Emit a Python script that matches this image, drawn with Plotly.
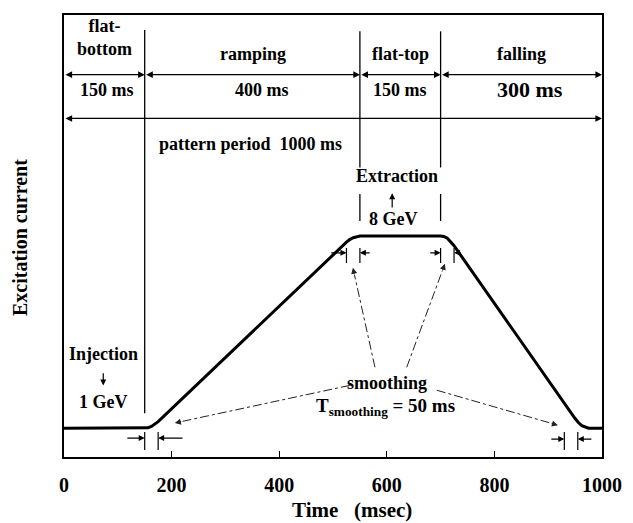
import math
import plotly.graph_objects as go

# ---------------- data ----------------
time_ms = [0, 150, 156, 162.5, 169, 175, 525, 531, 537.5, 544, 550,
           700, 706, 712.5, 719, 725, 950, 956, 962.5, 969, 975, 1000]
current = [0.065, 0.065, 0.066, 0.069, 0.074, 0.080, 0.486, 0.492, 0.496, 0.499, 0.500,
           0.500, 0.499, 0.495, 0.487, 0.478, 0.087, 0.078, 0.071, 0.067, 0.065, 0.065]

phase_bounds = [0, 150, 550, 700, 1000]
phase_names = ["flat-<br>bottom", "ramping", "flat-top", "falling"]
phase_durations = ["150 ms", "400 ms", "150 ms", "300 ms"]
period_label = "pattern period  1000 ms"

smoothing_starts = [150, 525, 700, 930]
smoothing_ends = [175, 550, 725, 955]

tick_vals = [0, 200, 400, 600, 800, 1000]
tick_text = ["0", "200", "400", "600", "800", "1000"]

# ---------------- layout helpers ----------------
# the page places the figure 8 px from the window's top-left corner
OFF = 8
W, H = 633 - OFF, 523 - OFF
ML, MR, MT, MB = 64 - OFF, 31, 13 - OFF, 66
PW, PH = W - ML - MR, H - MT - MB
KX = PW / 1000.0   # px per ms
KY = PH / 1.0      # px per unit

FONT = "Liberation Serif"


def f(size):
    return dict(family=FONT, size=size, color="black")


fig = go.Figure()
fig.add_trace(go.Scatter(x=time_ms, y=current, mode="lines",
                         line=dict(color="black", width=3), hoverinfo="skip",
                         showlegend=False))

shapes = []
ann = []

# header rows of arrows
y_row1, y_row2 = 0.865, 0.766
for a, b in zip(phase_bounds[:-1], phase_bounds[1:]):
    ann.append(dict(x=b, y=y_row1, ax=a, ay=y_row1, xref="x", yref="y", axref="x", ayref="y",
                    text="", showarrow=True, arrowhead=2, arrowside="end+start",
                    arrowsize=1.1, arrowwidth=1.2, arrowcolor="black", standoff=0, startstandoff=0))
ann.append(dict(x=phase_bounds[-1], y=y_row2, ax=phase_bounds[0], ay=y_row2,
                xref="x", yref="y", axref="x", ayref="y",
                text="", showarrow=True, arrowhead=2, arrowside="end+start",
                arrowsize=1.1, arrowwidth=1.2, arrowcolor="black", standoff=0, startstandoff=0))

# vertical phase boundaries
shapes.append(dict(type="line", x0=phase_bounds[1], x1=phase_bounds[1], y0=0.966, y1=0.099,
                   line=dict(color="black", width=1.3)))
for xb in phase_bounds[2:4]:
    shapes.append(dict(type="line", x0=xb, x1=xb, y0=0.963, y1=0.655,
                       line=dict(color="black", width=1.3)))
    shapes.append(dict(type="line", x0=xb, x1=xb, y0=0.595, y1=0.534,
                       line=dict(color="black", width=1.3)))

# phase names and durations
name_y = [0.948, 0.912, 0.912, 0.912]
for i, (a, b) in enumerate(zip(phase_bounds[:-1], phase_bounds[1:])):
    ann.append(dict(x=(a + b) / 2 + 1, y=name_y[i], xref="x", yref="y", showarrow=False,
                    text="<b>%s</b>" % phase_names[i], font=f(18)))
dur_x = [80, 368, 625, 866]
dur_size = [18, 18, 18, 22]
for i, d in enumerate(phase_durations):
    ann.append(dict(x=dur_x[i], y=0.831, xref="x", yref="y", showarrow=False,
                    text="<b>%s</b>" % d, font=f(dur_size[i])))
ann.append(dict(x=347, y=0.709, xref="x", yref="y", showarrow=False,
                text="<b>%s</b>" % period_label.replace("  ", "&nbsp; "), font=f(18)))

# extraction / injection
ann.append(dict(x=619, y=0.635, xref="x", yref="y", showarrow=False,
                text="<b>Extraction</b>", font=f(18)))
ann.append(dict(x=610, y=0.597, ax=610, ay=0.561, xref="x", yref="y", axref="x", ayref="y",
                text="", showarrow=True, arrowhead=2, arrowsize=1, arrowwidth=1.2,
                arrowcolor="black", standoff=0))
ann.append(dict(x=612, y=0.538, xref="x", yref="y", showarrow=False,
                text="<b>8 GeV</b>", font=f(18)))

ann.append(dict(x=74, y=0.234, xref="x", yref="y", showarrow=False,
                text="<b>Injection</b>", font=f(18)))
ann.append(dict(x=73, y=0.162, ax=73, ay=0.193, xref="x", yref="y", axref="x", ayref="y",
                text="", showarrow=True, arrowhead=2, arrowsize=1, arrowwidth=1.2,
                arrowcolor="black", standoff=0))
ann.append(dict(x=74, y=0.124, xref="x", yref="y", showarrow=False,
                text="<b>1 GeV</b>", font=f(18)))

# smoothing markers (ticks with inward arrows)
mark_y = [(0.0563, 0.0158, 0.0428), (0.473, 0.439, 0.462), (0.473, 0.439, 0.462), (0.0563, 0.0158, 0.0405)]
arrow_len = [(35, 48), (31, 21), (22, 15), (27, 28)]
for i, (s, e) in enumerate(zip(smoothing_starts, smoothing_ends)):
    y0, y1, ya = mark_y[i]
    for xv in (s, e):
        shapes.append(dict(type="line", x0=xv, x1=xv, y0=y0, y1=y1,
                           line=dict(color="black", width=1.2)))
    ann.append(dict(x=s, y=ya, ax=s - arrow_len[i][0], ay=ya, xref="x", yref="y",
                    axref="x", ayref="y", text="", showarrow=True, arrowhead=2,
                    arrowsize=1, arrowwidth=1.2, arrowcolor="black", standoff=0))
    ann.append(dict(x=e, y=ya, ax=e + arrow_len[i][1], ay=ya, xref="x", yref="y",
                    axref="x", ayref="y", text="", showarrow=True, arrowhead=2,
                    arrowsize=1, arrowwidth=1.2, arrowcolor="black", standoff=0))

# smoothing labels and dash-dot pointers
ann.append(dict(x=600, y=0.167, xref="x", yref="y", showarrow=False,
                text="<b>smoothing</b>", font=f(18)))
ann.append(dict(x=597, y=0.113, xref="x", yref="y", showarrow=False,
                text="<b>T<sub>smoothing</sub> = 50 ms</b>", font=f(19)))

pointers = [((531, 0.162), (206, 0.077)),
            ((578, 0.203), (537, 0.428)),
            ((637, 0.203), (708, 0.437)),
            ((693, 0.151), (918, 0.072))]
for (tx, ty), (hx, hy) in pointers:
    dxp = (hx - tx) * KX
    dyp = -(hy - ty) * KY
    L = math.hypot(dxp, dyp)
    ux, uy = dxp / L, dyp / L
    back = 7.0
    ex = hx - ux * back / KX
    ey = hy + uy * back / KY
    shapes.append(dict(type="line", x0=tx, y0=ty, x1=ex, y1=ey,
                       line=dict(color="#222222", width=1, dash="dashdot")))
    ann.append(dict(x=hx, y=hy, xref="x", yref="y", ax=-ux * 8, ay=-uy * 8,
                    text="", showarrow=True, arrowhead=2, arrowsize=1, arrowwidth=1.2,
                    arrowcolor="#222222", standoff=0))

# axis titles (positions given in window pixels)
ann.append(dict(x=(20 - 64) / PW, y=(457 - 237) / PH, xref="paper", yref="paper",
                xanchor="center", yanchor="middle",
                showarrow=False, textangle=-90, text="<b>Excitation current</b>", font=f(20)))
ann.append(dict(x=(352 - 64) / PW, y=(457 - 510) / PH, xref="paper", yref="paper",
                xanchor="center", yanchor="middle",
                showarrow=False, text="<b>Time&nbsp;&nbsp;&nbsp;(msec)</b>", font=f(21)))

fig.update_layout(
    width=W, height=H,
    margin=dict(l=ML, r=MR, t=MT, b=MB),
    paper_bgcolor="white", plot_bgcolor="white",
    shapes=shapes, annotations=ann, showlegend=False,
    xaxis=dict(range=[0, 1000], tickvals=tick_vals, ticktext=tick_text,
               ticks="inside", ticklen=6, tickwidth=1.2, tickcolor="black",
               showline=True, linecolor="black", linewidth=2.2, mirror=True,
               showgrid=False, zeroline=False, ticklabelstandoff=9,
               tickfont=dict(family=FONT, size=20, color="black", weight="bold")),
    yaxis=dict(range=[0, 1], showticklabels=False, ticks="",
               showline=True, linecolor="black", linewidth=1.6, mirror=True,
               showgrid=False, zeroline=False),
)

fig.write_html("out.html")
